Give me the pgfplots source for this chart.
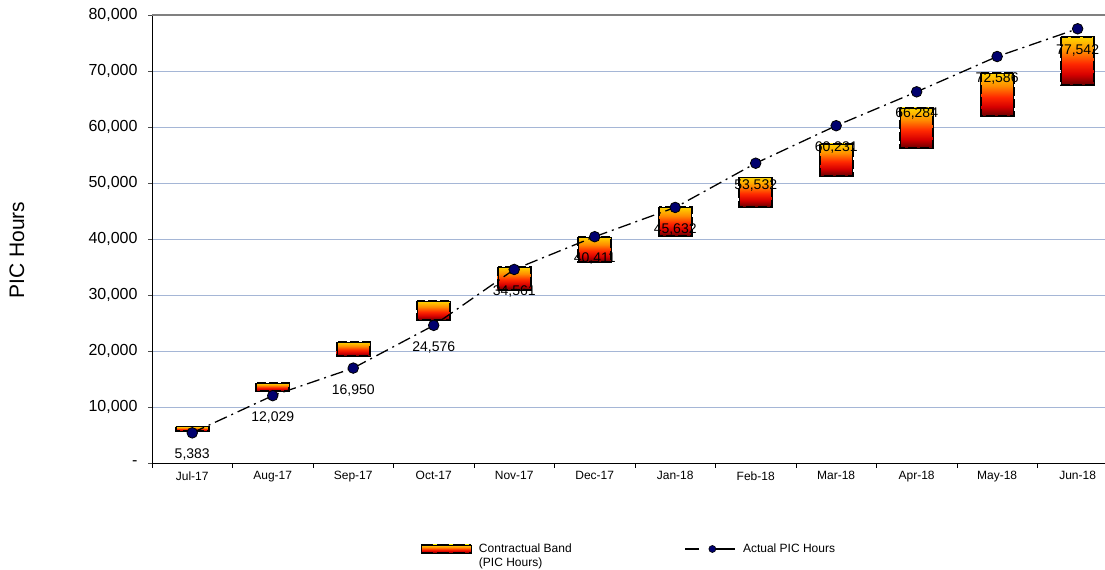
\documentclass[border=0pt]{standalone}
\usepackage{fontspec}
\setmainfont{Liberation Sans}
\usepackage{pgfplots}
\pgfplotsset{compat=1.18}
\definecolor{gridc}{RGB}{165,182,214}
\definecolor{navyc}{RGB}{0,0,110}
\definecolor{cA}{RGB}{105,0,0}
\definecolor{cB}{RGB}{215,0,0}
\definecolor{cC}{RGB}{255,40,0}
\definecolor{cD}{RGB}{255,140,0}
\definecolor{cE}{RGB}{255,215,0}
\pgfdeclareverticalshading{bandshade}{100bp}{color(0bp)=(cA); color(25bp)=(cA); color(36bp)=(cB); color(47bp)=(cC); color(60bp)=(cD); color(75bp)=(cE); color(100bp)=(cE)}
\pgfplotsset{/pgf/number format/assume math mode=true}
\begin{document}
\begin{tikzpicture}
\useasboundingbox (0,0) rectangle (1105bp,570bp);
\begin{axis}[
  at={(152bp,107bp)}, anchor=south west,
  scale only axis, width=953bp, height=448bp,
  xmin=-0.5, xmax=11.34, ymin=0, ymax=80000,
  axis x line*=bottom, axis y line*=left,
  axis line style={black, line width=0.9bp},
  scaled y ticks=false,
  xtick={0,1,2,3,4,5,6,7,8,9,10,11},
  xticklabels={Jul-17,Aug-17,Sep-17,Oct-17,Nov-17,Dec-17,Jan-18,Feb-18,Mar-18,Apr-18,May-18,Jun-18},
  major x tick style={draw=none},
  minor xtick={-0.5,0.5,1.5,2.5,3.5,4.5,5.5,6.5,7.5,8.5,9.5,10.5},
  minor x tick style={black, line width=0.8bp},
  minor tick length=5bp,
  tick align=outside,
  ytick={0,10000,20000,30000,40000,50000,60000,70000,80000},
  yticklabels={-,{10,000},{20,000},{30,000},{40,000},{50,000},{60,000},{70,000},{80,000}},
  ytick style={black!70, line width=0.8bp},
  major tick length=4bp,
  ymajorgrids, grid style={gridc, line width=0.8bp},
  xticklabel style={font=\fontsize{12bp}{14bp}\selectfont, yshift=-1bp},
  yticklabel style={font=\fontsize{16bp}{18bp}\selectfont, xshift=-7bp},
  ylabel={PIC Hours},
  every axis y label/.style={at={(axis description cs:-0.1417,0.475)}, anchor=center, rotate=90, font=\fontsize{21bp}{24bp}\selectfont},
  clip=false,
]
\draw[black!50, line width=1.2bp] (axis cs:-0.5,80000) -- (axis cs:11.34,80000);
\addplot[scatter, only marks, mark=*, mark size=0.1bp, mark options={draw=none, fill=none},
  point meta=y,
  visualization depends on={\thisrow{hi}-\thisrow{lo} \as \bh},
  scatter/@pre marker code/.code={
    \pgfmathsetmacro\hbp{\bh*0.0056}
    \fill[shading=bandshade] (-16.5bp,0bp) rectangle (16.5bp,-\hbp bp);
    \draw[black, line width=1.7bp, dash pattern=on 9bp off 3bp] (-16.5bp,0bp) rectangle (16.5bp,-\hbp bp);
  },
  scatter/@post marker code/.code={},
] table[x=x, y=hi] {
x lo hi
0 5700 6500
1 12850 14250
2 19100 21600
3 25500 28900
4 30900 35000
5 35900 40350
6 40550 45700
7 45760 51000
8 51300 57000
9 56250 63400
10 61960 69640
11 67500 76130
};
\end{axis}
\begin{axis}[
  at={(152bp,107bp)}, anchor=south west,
  scale only axis, width=953bp, height=448bp,
  xmin=-0.5, xmax=11.34, ymin=0, ymax=80000,
  hide axis, clip=false,
  legend columns=2,
  legend style={at={(axis description cs:0.2812,-0.1741)}, anchor=north west, draw=none, fill=none, inner sep=0pt,
    font=\fontsize{12bp}{14bp}\selectfont, nodes={anchor=base west, inner xsep=7bp},
    /tikz/every even column/.append style={column sep=106bp}},
  legend cell align=left,
]
\addlegendimage{legend image code/.code={
  \fill[shading=bandshade] (0bp,0bp) rectangle (50bp,8bp);
  \draw[black, line width=1.8bp, dash pattern=on 12bp off 4bp] (0bp,0bp) -- (50bp,0bp);
  \draw[black, line width=1.8bp, dash pattern=on 12bp off 4bp] (0bp,8bp) -- (50bp,8bp);
}}
\addlegendentry{\begin{tabular}[t]{@{}l@{}}Contractual Band\\(PIC Hours)\end{tabular}}
\addplot[black, line width=1.3bp, dash pattern=on 13bp off 5bp on 2bp off 5bp,
  mark=*, mark size=5.3bp, mark options={solid, fill=navyc, draw=black, line width=0.8bp},
  point meta=y,
  nodes near coords={\pgfmathprintnumber[fixed, precision=0, 1000 sep={,}]{\pgfplotspointmeta}},
  every node near coord/.append style={anchor=center, yshift=-22bp, font=\fontsize{14bp}{16bp}\selectfont, text=black, inner xsep=0pt},
  legend image code/.code={
    \draw[solid, black, line width=1.3bp] (0bp,4bp) -- (14bp,4bp);
    \draw[solid, black, line width=1.3bp] (26bp,4bp) -- (50bp,4bp);
    \fill[solid, navyc, draw=black, line width=0.6bp] (27bp,4bp) circle (3.5bp);
  }]
coordinates {
(0,5383) (1,12029) (2,16950) (3,24576) (4,34561) (5,40411) (6,45632) (7,53532) (8,60231) (9,66284) (10,72586) (11,77542)};
\addlegendentry{Actual PIC Hours}
\end{axis}
\end{tikzpicture}
\end{document}
